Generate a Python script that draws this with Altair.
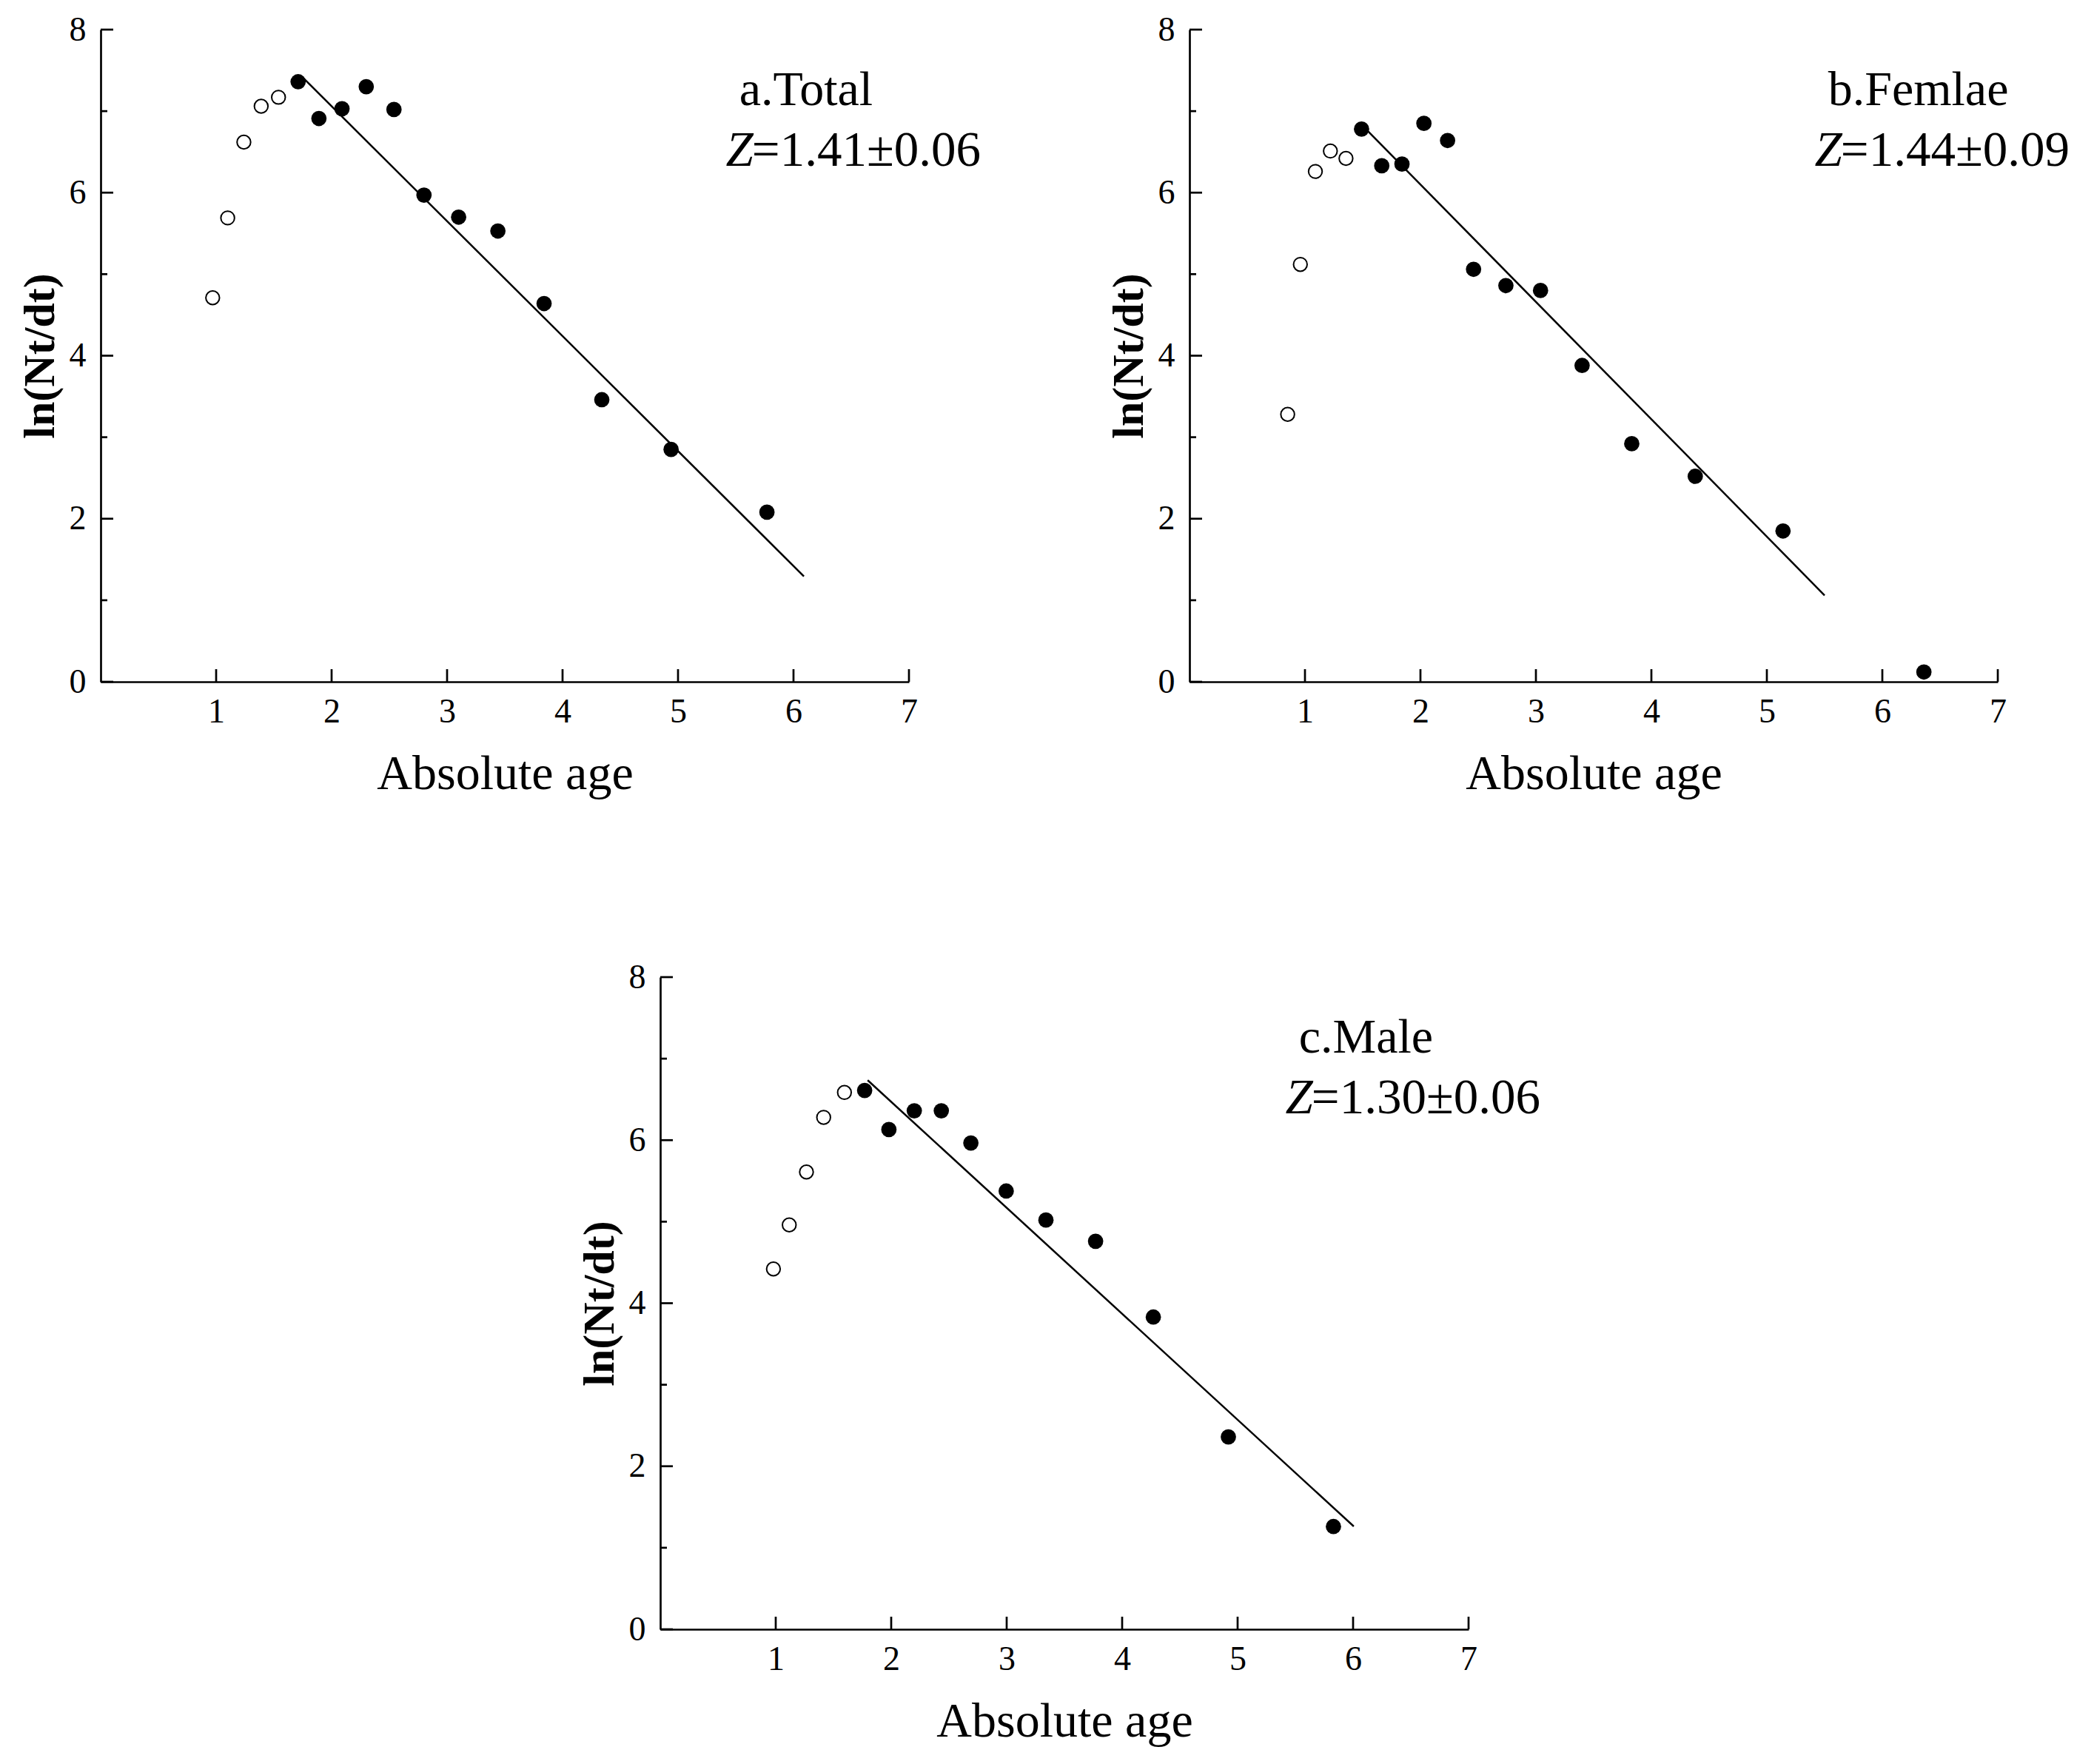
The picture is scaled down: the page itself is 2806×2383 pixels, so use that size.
import altair as alt
import pandas as pd

# ---- (a) Total ----
a_open_age = [0.97, 1.10, 1.24, 1.39, 1.54]
a_open_ln = [4.71, 5.69, 6.62, 7.06, 7.17]
a_age = [1.71, 1.89, 2.09, 2.30, 2.54, 2.80, 3.10, 3.44, 3.84, 4.34, 4.94, 5.77]
a_ln = [7.36, 6.91, 7.03, 7.30, 7.02, 5.97, 5.70, 5.53, 4.64, 3.46, 2.85, 2.08]
a_fit_range = [1.75, 6.09]
a_intercept = 9.88
a_z, a_se = 1.41, 0.06
a_label = "a.Total"

# ---- (b) Females ----
b_open_age = [0.85, 0.96, 1.09, 1.22, 1.355]
b_open_ln = [3.28, 5.12, 6.26, 6.51, 6.42]
b_age = [1.49, 1.665, 1.84, 2.03, 2.235, 2.46, 2.74, 3.04, 3.40, 3.83, 4.38, 5.14, 6.36]
b_ln = [6.78, 6.33, 6.35, 6.85, 6.64, 5.06, 4.86, 4.80, 3.88, 2.92, 2.52, 1.85, 0.12]
b_fit_range = [1.515, 5.50]
b_intercept = 8.98
b_z, b_se = 1.44, 0.09
b_label = "b.Femlae"

# ---- (c) Males ----
c_open_age = [0.98, 1.117, 1.266, 1.415, 1.595]
c_open_ln = [4.42, 4.96, 5.61, 6.28, 6.585]
c_age = [1.77, 1.98, 2.20, 2.434, 2.69, 2.996, 3.34, 3.77, 4.27, 4.92, 5.83]
c_ln = [6.61, 6.13, 6.36, 6.36, 5.965, 5.376, 5.02, 4.76, 3.83, 2.36, 1.26]
c_fit_range = [1.796, 6.006]
c_intercept = 9.07
c_z, c_se = 1.30, 0.06
c_label = "c.Male"

x_ticks = [1, 2, 3, 4, 5, 6, 7]
y_labels = [0, 2, 4, 6, 8]
y_minor = [1, 3, 5, 7]

# annotation anchor (data units)
label_pos = (5.53, 7.07)
z_pos = (5.64, 6.33)

W, H = 1092, 881
FONT = "Liberation Serif"
LW = 2.7
TICK = 17
MINOR = 9

x_scale = alt.Scale(domain=[0, 7], nice=False, zero=False)
y_scale = alt.Scale(domain=[0, 8], nice=False, zero=False)

x_axis = alt.Axis(
    values=x_ticks, title="Absolute age", format="d",
    titleFont=FONT, titleFontSize=66, titleFontWeight="normal", titleColor="black",
    titleBaseline="alphabetic", titleY=144,
    labelFont=FONT, labelFontSize=46, labelColor="black", labelPadding=18,
    labelAngle=0, labelFlush=False, labelOverlap=False,
    ticks=False, tickSize=0, grid=False,
    domainColor="black", domainWidth=LW,
)
y_axis = alt.Axis(
    values=y_labels, title="ln(Nt/dt)", format="d",
    titleFont=FONT, titleFontSize=60, titleFontWeight="bold", titleColor="black",
    titleAngle=270, titleBaseline="alphabetic", titleAlign="center",
    titleX=-64, titleY=H / 2,
    labelFont=FONT, labelFontSize=46, labelColor="black", labelPadding=20,
    labelFlush=False, labelOverlap=False,
    ticks=False, tickSize=0, grid=False,
    domainColor="black", domainWidth=LW,
)


def X(field):
    return alt.X(f"{field}:Q", scale=x_scale, axis=x_axis)


def Y(field):
    return alt.Y(f"{field}:Q", scale=y_scale, axis=y_axis)


def panel(open_x, open_y, fill_x, fill_y, fit_range, intercept, z, se, label):
    open_df = pd.DataFrame({"age": open_x, "ln": open_y})
    fill_df = pd.DataFrame({"age": fill_x, "ln": fill_y})
    fit_df = pd.DataFrame({"age": fit_range,
                           "ln": [intercept - z * v for v in fit_range]})

    # inward tick marks
    x_tick_layer = alt.Chart(pd.DataFrame({"v": x_ticks})).mark_rule(
        color="black", strokeWidth=LW, strokeCap="butt"
    ).encode(x=X("v"), y=alt.value(H), y2=alt.value(H - TICK))
    y_major_layer = alt.Chart(pd.DataFrame({"v": y_labels})).mark_rule(
        color="black", strokeWidth=LW, strokeCap="butt"
    ).encode(y=Y("v"), x=alt.value(0), x2=alt.value(TICK))
    y_minor_layer = alt.Chart(pd.DataFrame({"v": y_minor})).mark_rule(
        color="black", strokeWidth=LW, strokeCap="butt"
    ).encode(y=Y("v"), x=alt.value(0), x2=alt.value(MINOR))

    fit_layer = alt.Chart(fit_df).mark_line(
        color="black", strokeWidth=2.5
    ).encode(x=X("age"), y=Y("ln"))
    open_layer = alt.Chart(open_df).mark_point(
        shape="circle", filled=False, color="black", strokeWidth=2,
        size=340, opacity=1
    ).encode(x=X("age"), y=Y("ln"))
    fill_layer = alt.Chart(fill_df).mark_circle(
        color="black", size=430, opacity=1
    ).encode(x=X("age"), y=Y("ln"))

    label_layer = alt.Chart(pd.DataFrame(
        {"age": [label_pos[0]], "ln": [label_pos[1]], "t": [label]}
    )).mark_text(
        font=FONT, fontSize=66, align="left", baseline="alphabetic", color="black"
    ).encode(x=X("age"), y=Y("ln"), text="t:N")

    z_df = pd.DataFrame({"age": [z_pos[0]], "ln": [z_pos[1]],
                         "sym": ["Z"], "val": [f"={z:.2f}±{se:.2f}"]})
    z_sym_layer = alt.Chart(z_df).mark_text(
        font=FONT, fontSize=67, fontStyle="italic", align="right",
        baseline="alphabetic", color="black", dx=2
    ).encode(x=X("age"), y=Y("ln"), text="sym:N")
    z_val_layer = alt.Chart(z_df).mark_text(
        font=FONT, fontSize=67, align="left", baseline="alphabetic", color="black"
    ).encode(x=X("age"), y=Y("ln"), text="val:N")

    return alt.layer(
        x_tick_layer, y_major_layer, y_minor_layer, fit_layer,
        open_layer, fill_layer, label_layer, z_sym_layer, z_val_layer
    ).properties(width=W, height=H)


pa = panel(a_open_age, a_open_ln, a_age, a_ln, a_fit_range, a_intercept, a_z, a_se, a_label)
pb = panel(b_open_age, b_open_ln, b_age, b_ln, b_fit_range, b_intercept, b_z, b_se, b_label)
pc = panel(c_open_age, c_open_ln, c_age, c_ln, c_fit_range, c_intercept, c_z, c_se, c_label)

# blank cell that shifts the bottom panel towards the middle
spacer = alt.Chart(pd.DataFrame({"v": [0]})).mark_point(opacity=0).encode(
    x=alt.X("v:Q", axis=None), y=alt.Y("v:Q", axis=None)
).properties(width=644, height=H)

top_row = alt.hconcat(pa, pb, spacing=170)
bottom_row = alt.hconcat(spacer, pc, spacing=0)

chart = alt.vconcat(top_row, bottom_row, spacing=219).properties(
    padding={"left": 24, "top": 17, "right": 5, "bottom": 5},
    background="white",
).configure_view(stroke=None)

chart.save("out.html", embed_options={"renderer": "svg", "actions": False})
